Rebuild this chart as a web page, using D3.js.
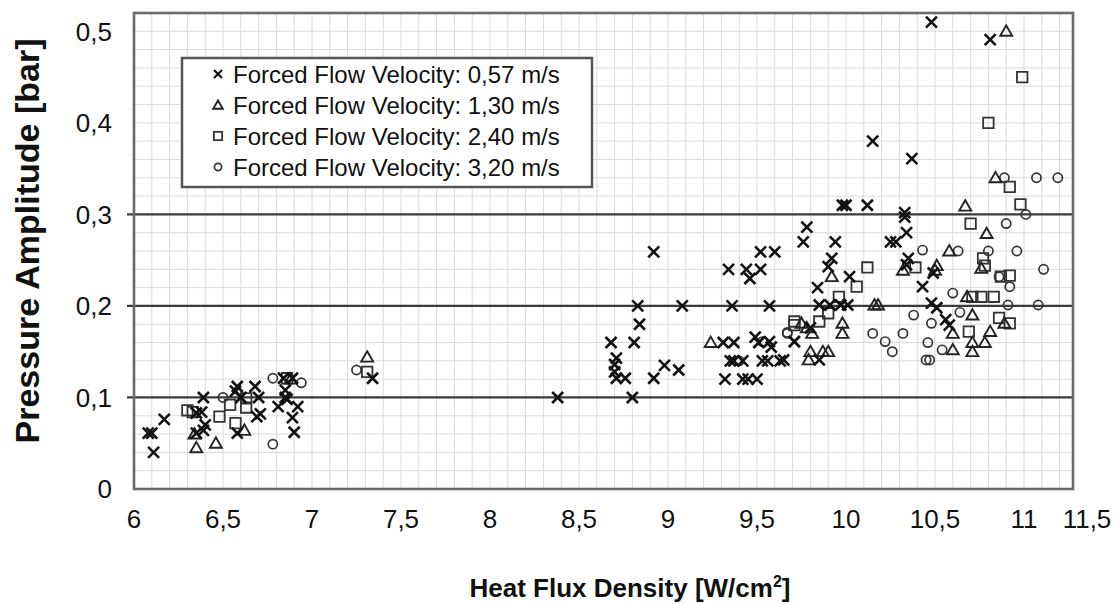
<!DOCTYPE html>
<html><head><meta charset="utf-8">
<script src="https://cdn.jsdelivr.net/npm/d3@7/dist/d3.min.js"></script>
<style>body{margin:0;background:#fff}svg{display:block}text{font-family:"Liberation Sans",Arial,sans-serif;fill:#111}</style>
</head><body><svg id="c" width="1117" height="604"></svg>
<script>
// ---- data ----
const xTicks = [6, 6.5, 7, 7.5, 8, 8.5, 9, 9.5, 10, 10.5, 11, 11.5];
const yTicks = [0, 0.1, 0.2, 0.3, 0.4, 0.5];
const refLines = [0.1, 0.2, 0.3];
const seriesNames = ["Forced Flow Velocity: 0,57 m/s","Forced Flow Velocity: 1,30 m/s","Forced Flow Velocity: 2,40 m/s","Forced Flow Velocity: 3,20 m/s"];

const flux057 = [6.08,6.10,6.11,6.17,6.39,6.35,6.38,6.40,6.35,6.39,6.58,6.57,6.60,6.68,6.70,6.69,6.71,6.58,6.84,6.89,6.85,6.85,6.86,6.81,6.92,6.89,6.90,7.34,
 8.38,8.80,8.68,8.81,8.71,8.70,8.70,8.71,8.76,8.83,8.84,8.92,8.92,8.98,9.06,9.08,
 9.36,9.57,9.31,9.37,9.34,9.44,9.52,9.46,9.52,9.60,9.49,9.51,9.57,9.58,9.35,9.37,9.42,9.53,9.56,9.63,9.32,9.42,9.45,9.50,9.71,9.65,
 9.78,9.76,9.94,9.92,9.90,9.98,10.00,10.12,10.15,10.37,10.33,10.33,10.34,10.25,10.28,10.35,10.34,10.02,9.84,9.85,9.91,9.97,10.01,9.80,9.71,9.85,
 10.48,10.81,10.49,10.43,10.48,10.51,10.56,10.58];
const amp057 = [0.061,0.061,0.040,0.076,0.100,0.083,0.084,0.070,0.061,0.064,0.112,0.107,0.100,0.112,0.100,0.079,0.082,0.061,0.121,0.121,0.108,0.100,0.098,0.090,0.090,0.078,0.062,0.121,
 0.100,0.100,0.160,0.160,0.143,0.136,0.128,0.121,0.121,0.200,0.180,0.259,0.121,0.135,0.130,0.200,
 0.200,0.200,0.160,0.160,0.240,0.240,0.240,0.230,0.259,0.259,0.166,0.160,0.161,0.155,0.140,0.140,0.140,0.140,0.140,0.140,0.120,0.120,0.120,0.120,0.161,0.141,
 0.286,0.270,0.270,0.252,0.243,0.310,0.310,0.310,0.380,0.361,0.302,0.297,0.280,0.270,0.270,0.252,0.245,0.232,0.220,0.201,0.201,0.201,0.201,0.176,0.161,0.141,
 0.510,0.491,0.236,0.221,0.203,0.198,0.185,0.179];

const flux130 = [6.35,6.46,6.62,6.34,6.88,7.31,9.24,9.92,10.32,10.50,10.16,10.18,9.75,9.78,9.81,9.98,9.98,9.80,9.79,9.87,9.90,
 10.84,10.67,10.79,10.58,10.76,10.51,10.68,10.71,10.89,10.60,10.81,10.78,10.71,10.60,10.71,10.90];
const amp130 = [0.045,0.050,0.064,0.060,0.120,0.144,0.160,0.232,0.239,0.239,0.201,0.201,0.181,0.176,0.170,0.181,0.170,0.150,0.141,0.150,0.150,
 0.340,0.309,0.279,0.260,0.241,0.244,0.210,0.190,0.181,0.170,0.172,0.160,0.160,0.152,0.150,0.500];

const flux240 = [6.30,6.33,6.54,6.48,6.63,6.63,6.57,6.86,7.31,9.71,10.12,10.39,10.06,9.96,9.90,9.85,9.71,
 10.99,10.80,10.92,10.98,10.70,10.77,10.78,10.87,10.92,10.71,10.76,10.83,10.86,10.92,10.69];
const amp240 = [0.086,0.084,0.092,0.079,0.099,0.089,0.072,0.121,0.128,0.179,0.242,0.242,0.221,0.210,0.192,0.183,0.183,
 0.450,0.400,0.330,0.311,0.290,0.252,0.244,0.232,0.233,0.210,0.210,0.210,0.187,0.181,0.172];

const flux320 = [6.50,6.78,6.94,6.78,7.25,9.53,9.40,9.67,10.43,10.38,9.67,10.15,10.32,10.22,10.26,10.48,10.46,10.45,10.47,
 10.89,11.07,11.19,11.01,10.90,10.63,10.80,10.96,10.86,10.92,10.60,10.91,11.08,10.64,10.54,11.11];
const amp320 = [0.100,0.121,0.116,0.049,0.130,0.161,0.140,0.171,0.261,0.190,0.170,0.170,0.170,0.161,0.150,0.181,0.160,0.141,0.141,
 0.340,0.340,0.340,0.300,0.290,0.260,0.260,0.260,0.232,0.221,0.214,0.201,0.201,0.193,0.152,0.240];

// ---- layout ----
const W = 1117, H = 604;
const L = 134, R = 1073, T = 13, B = 489;
const svg = d3.select("#c");
svg.append("rect").attr("width", W).attr("height", H).attr("fill", "#fff");

const x = d3.scaleLinear().domain([6, 11.5]).range([L, L + 5.5 * 178]);
const y = d3.scaleLinear().domain([0, 0.52]).range([B, T]);
const xMax = x.invert(R);

// minor grid
const g = svg.append("g");
g.selectAll(".vg").data(d3.range(61, Math.floor(xMax * 10) + 1).map(d => d / 10)).enter().append("line")
  .attr("x1", d => x(d)).attr("x2", d => x(d)).attr("y1", T).attr("y2", B)
  .attr("stroke", "#dadada").attr("stroke-width", 1);
g.selectAll(".hg").data(d3.range(1, 26).map(d => d * 0.02)).enter().append("line")
  .attr("x1", L).attr("x2", R).attr("y1", d => y(d)).attr("y2", d => y(d))
  .attr("stroke", "#dadada").attr("stroke-width", 1);

// reference lines
g.selectAll(".rl").data(refLines).enter().append("line")
  .attr("x1", L - 7).attr("x2", R).attr("y1", d => y(d)).attr("y2", d => y(d))
  .attr("stroke", "#3a3a3a").attr("stroke-width", 2.2);

// frame
svg.append("rect").attr("x", L).attr("y", T).attr("width", R - L).attr("height", B - T)
  .attr("fill", "none").attr("stroke", "#6a6a6a").attr("stroke-width", 2.6);

// axes labels
const fmt = d => String(d).replace(".", ",");
svg.append("g").selectAll("text").data(yTicks).enter().append("text")
  .attr("x", 112).attr("y", d => y(d)).attr("dy", "0.36em").attr("text-anchor", "end")
  .attr("font-size", 26).text(fmt);
svg.append("g").selectAll("text").data(xTicks).enter().append("text")
  .attr("x", d => Math.min(x(d), W - 30)).attr("y", 528).attr("text-anchor", "middle")
  .attr("font-size", 26).text(fmt);

// titles
const xt = svg.append("text").attr("x", 630).attr("y", 597).attr("text-anchor", "middle")
  .attr("font-size", 26).attr("font-weight", "bold");
xt.append("tspan").text("Heat Flux Density [W/cm");
xt.append("tspan").attr("dy", -10).attr("font-size", 16).text("2");
xt.append("tspan").attr("dy", 10).text("]");
svg.append("text").attr("transform", "translate(39,241) rotate(-90)").attr("text-anchor", "middle")
  .attr("font-size", 34).attr("font-weight", "bold").text("Pressure Amplitude [bar]");

// markers
const crossPath = s => `M${-s},${-s}L${s},${s}M${s},${-s}L${-s},${s}`;
const tri = d3.symbol().type(d3.symbolTriangle);
const sq = d3.symbol().type(d3.symbolSquare);
function drawMarker(sel, kind, big) {
  if (kind === 0) sel.append("path").attr("d", crossPath(big ? 5.5 : 4)).attr("stroke", "#111").attr("stroke-width", big ? 2.6 : 2.2).attr("fill", "none");
  if (kind === 1) sel.append("path").attr("d", tri.size(big ? 62 : 40)()).attr("transform", "translate(0,1)").attr("stroke", "#222").attr("stroke-width", 1.9).attr("fill", "none");
  if (kind === 2) sel.append("path").attr("d", sq.size(big ? 110 : 70)()).attr("stroke", "#333").attr("stroke-width", 1.8).attr("fill", "none");
  if (kind === 3) sel.append("circle").attr("r", big ? 4.6 : 3.6).attr("stroke", "#333").attr("stroke-width", 1.7).attr("fill", "none");
}
const series = [[flux057, amp057], [flux130, amp130], [flux240, amp240], [flux320, amp320]];
const pg = svg.append("g");
[3, 2, 1, 0].forEach(k => {
  const [fx, ay] = series[k];
  fx.forEach((v, i) => {
    const m = pg.append("g").attr("transform", `translate(${x(v)},${y(ay[i])})`);
    drawMarker(m, k, true);
  });
});

// legend
const lg = svg.append("g");
lg.append("rect").attr("x", 182).attr("y", 58).attr("width", 410).attr("height", 129)
  .attr("fill", "#fff").attr("stroke", "#555").attr("stroke-width", 2.5);
seriesNames.forEach((n, i) => {
  const yy = 74 + i * 31;
  const m = lg.append("g").attr("transform", `translate(218,${yy})`);
  drawMarker(m, i, false);
  lg.append("text").attr("x", 233).attr("y", yy).attr("dy", "0.36em").attr("font-size", 24).text(n);
});
</script></body></html>
